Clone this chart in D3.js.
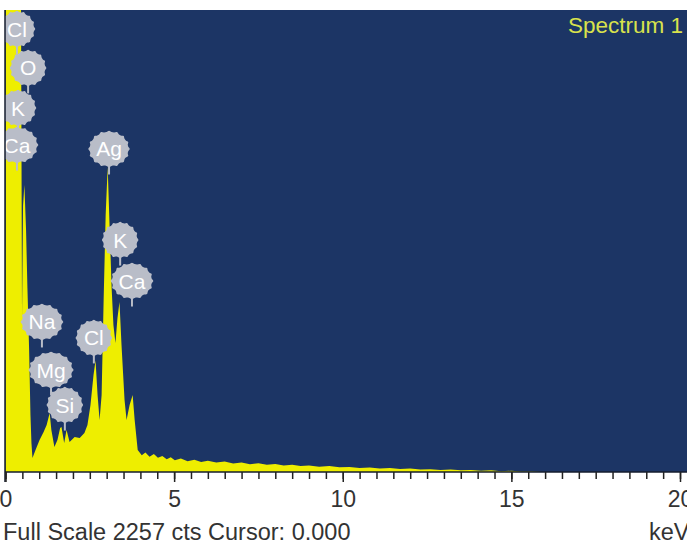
<!DOCTYPE html>
<html>
<head>
<meta charset="utf-8">
<script src="https://cdn.jsdelivr.net/npm/d3@7/dist/d3.min.js"></script>
<style>
  body { margin: 0; background: #fff; }
  svg { display: block; font-family: "Liberation Sans", Arial, sans-serif; }
</style>
</head>
<body>
<svg id="chart" width="687" height="544"></svg>
<script>
// spectrum (keV, counts)
const energy = [0.00, 0.01, 0.06, 0.18, 0.30, 0.39, 0.46, 0.49, 0.52, 0.56, 0.61, 0.65, 0.70, 0.74, 0.77, 0.80,
  0.89, 1.01, 1.13, 1.22, 1.31, 1.36, 1.45, 1.54, 1.62, 1.66, 1.74, 1.81, 1.90, 2.05, 2.20, 2.34, 2.43,
  2.52, 2.61, 2.67, 2.73, 2.79, 2.85, 2.91, 2.97, 3.03, 3.09, 3.15, 3.20, 3.26, 3.32, 3.38, 3.44, 3.53,
  3.59, 3.68, 3.77, 3.83, 3.92, 4.04, 4.15, 4.27, 4.40, 4.52, 4.65, 4.78, 4.90, 5.02, 5.20, 5.40, 5.60,
  5.80, 6.00, 6.25, 6.50, 6.75, 7.00, 7.25, 7.50, 7.75, 8.00, 8.25, 8.50, 8.75, 9.00, 9.30, 9.60, 9.90,
  10.2, 10.5, 10.8, 11.1, 11.4, 11.7, 12.0, 12.3, 12.6, 12.9, 13.2, 13.5, 13.8, 14.1, 14.4, 14.7, 15.0,
  15.3, 15.6, 15.9, 20.0];
const counts = [0, 2600, 3000, 3400, 2900, 2500, 2300, 760, 1300, 1402, 1180, 900, 600, 280, 140, 68,
  107, 156, 195, 230, 288, 205, 122, 156, 215, 220, 142, 205, 147, 171, 166, 190, 230,
  327, 474, 545, 376, 254, 376, 840, 1255, 1490, 1182, 889, 718, 630, 752, 830, 620, 352,
  254, 327, 376, 254, 107, 82, 95, 74, 88, 70, 78, 62, 72, 58, 66, 53, 60,
  49, 55, 46, 51, 42, 47, 38, 43, 35, 39, 32, 36, 29, 32, 26, 29, 23,
  25, 20, 22, 17, 19, 15, 17, 12, 14, 10, 12, 8, 10, 6, 8, 4, 6,
  2, 3, 0, 0];

const fullScale = 2257;
const majorTicks = [0, 5, 10, 15, 20];

// element markers: name, energy (keV) and counts level of the label
const labelNames = ['Cl', 'O', 'K', 'Ca', 'Ag', 'K', 'Ca', 'Na', 'Mg', 'Si', 'Cl'];
const labelKeV = [0.34, 0.67, 0.37, 0.34, 3.07, 3.40, 3.75, 1.08, 1.35, 1.76, 2.62];
const labelCts = [2164, 1974, 1778, 1597, 1578, 1133, 933, 733, 498, 327, 655];

const title = 'Spectrum 1';
const footer = 'Full Scale 2257 cts Cursor: 0.000';
const unit = 'keV';

const svg = d3.select('#chart');
const W = 687, H = 544;
const plot = { left: 5, top: 10, right: 700, bottom: 472 };

const x = d3.scaleLinear().domain([0, 20]).range([5.5, 680]);
const y = d3.scaleLinear().domain([0, fullScale]).range([plot.bottom, plot.top]);

svg.append('rect').attr('width', W).attr('height', H).attr('fill', '#fff');

svg.append('clipPath').attr('id', 'plotClip')
  .append('rect')
  .attr('x', plot.left).attr('y', plot.top)
  .attr('width', plot.right - plot.left).attr('height', plot.bottom - plot.top);

svg.append('rect')
  .attr('x', plot.left).attr('y', plot.top)
  .attr('width', plot.right - plot.left).attr('height', plot.bottom - plot.top)
  .attr('fill', '#1c3565');

const points = energy.map((e, i) => [e, counts[i]]);
const area = d3.area()
  .x(d => x(d[0]))
  .y0(y(0))
  .y1(d => y(d[1]));

const inner = svg.append('g').attr('clip-path', 'url(#plotClip)');

inner.append('path')
  .datum(points)
  .attr('d', area)
  .attr('fill', '#eeee00');

// bubbles
const bubbleColor = '#b9bdc8';
const bumpy = d3.line().curve(d3.curveCardinalClosed);

labelNames.forEach((name, i) => {
  const cx = x(labelKeV[i]);
  const cy = y(labelCts[i]);
  const g = inner.append('g');
  const label = g.append('text')
    .attr('x', cx).attr('y', cy + 7.5)
    .attr('text-anchor', 'middle')
    .attr('font-size', 21)
    .attr('fill', '#fff')
    .text(name);
  const tw = label.node().getComputedTextLength();
  const rx = Math.max(17.5, tw / 2 + 7);
  const ry = 17.5;
  const pts = d3.range(0, 48).map(k => {
    const a = k / 48 * Math.PI * 2;
    const r = 1 + 0.045 * Math.cos(a * 16);
    return [cx + Math.cos(a) * rx * r, cy + Math.sin(a) * ry * r];
  });
  g.insert('line', 'text')
    .attr('x1', cx).attr('x2', cx)
    .attr('y1', cy + ry).attr('y2', cy + ry + 8)
    .attr('stroke', bubbleColor).attr('stroke-width', 2);
  g.insert('path', 'text').attr('d', bumpy(pts)).attr('fill', bubbleColor);
});

// frame
svg.append('line')
  .attr('x1', plot.left).attr('x2', plot.left)
  .attr('y1', plot.top).attr('y2', plot.bottom + 10)
  .attr('stroke', '#141c2e').attr('stroke-width', 1.5);
svg.append('line')
  .attr('x1', plot.left).attr('x2', W)
  .attr('y1', plot.bottom).attr('y2', plot.bottom)
  .attr('stroke', '#141c2e').attr('stroke-width', 1.5);

// x axis
const minorAxis = d3.axisBottom(x)
  .tickValues(d3.range(0, 20.01, 0.5))
  .tickSize(7)
  .tickFormat('');
svg.append('g')
  .attr('class', 'axis axis-minor')
  .attr('transform', `translate(0, ${plot.bottom})`)
  .call(minorAxis)
  .call(g => g.select('.domain').remove())
  .selectAll('line').attr('stroke', '#222').attr('stroke-width', 1.5);

const majorAxis = d3.axisBottom(x)
  .tickValues(majorTicks)
  .tickSize(10)
  .tickPadding(9);
const ax = svg.append('g')
  .attr('class', 'axis axis-major')
  .attr('transform', `translate(0, ${plot.bottom})`)
  .call(majorAxis);
ax.select('.domain').remove();
ax.selectAll('line').attr('stroke', '#222').attr('stroke-width', 1.5);
ax.selectAll('text')
  .attr('font-size', 23)
  .attr('font-family', '"Liberation Sans", Arial, sans-serif')
  .attr('fill', '#333');

svg.append('text')
  .attr('x', 683).attr('y', 33)
  .attr('text-anchor', 'end')
  .attr('font-size', 22.5)
  .attr('fill', '#d9e24c')
  .text(title);

svg.append('text')
  .attr('x', 3).attr('y', 540)
  .attr('font-size', 23.5)
  .attr('fill', '#333')
  .text(footer);

svg.append('text')
  .attr('x', 649).attr('y', 540)
  .attr('font-size', 23.5)
  .attr('fill', '#333')
  .text(unit);
</script>
</body>
</html>
